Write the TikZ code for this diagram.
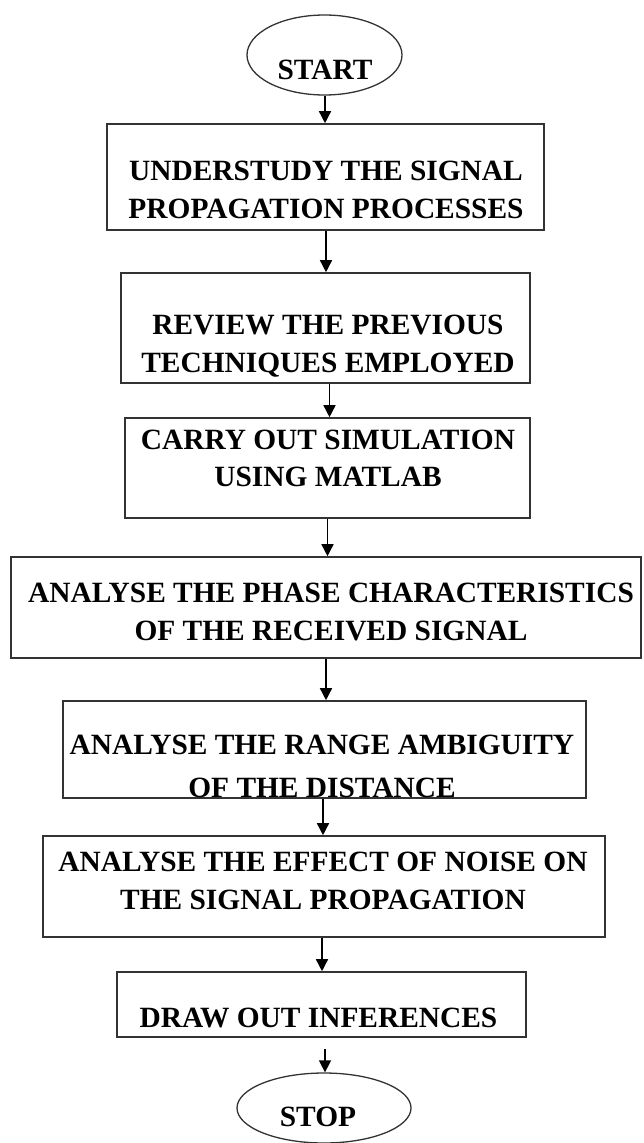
\documentclass[tikz,border=0pt]{standalone}
\usepackage{fontspec}
\setmainfont{Liberation Serif}
\usetikzlibrary{arrows.meta,shapes.geometric}
\begin{document}
\begin{tikzpicture}[x=1pt,y=-1pt,
  box/.style={draw=black!80, line width=1.6pt, rectangle, inner sep=0pt},
  oval/.style={draw=black!80, line width=1.3pt, ellipse, inner sep=0pt},
  txt/.style={font=\fontsize{29.4}{37.5}\selectfont\bfseries, align=center, inner sep=0pt, text=black},
  arr/.style={line width=1.5pt, -{Triangle[length=12pt,width=12pt]}}]
\useasboundingbox (0,0) rectangle (643,1143);
% shapes
\node[oval, minimum width=155pt, minimum height=80pt] (s) at (324.5,55) {};
\node[box, minimum width=437pt, minimum height=106pt] (b1) at (325.5,177) {};
\node[box, minimum width=409pt, minimum height=110pt] (b2) at (325.5,328) {};
\node[box, minimum width=405pt, minimum height=100pt] (b3) at (327.5,468) {};
\node[box, minimum width=630pt, minimum height=101pt] (b4) at (326,607.5) {};
\node[box, minimum width=523pt, minimum height=97pt] (b5) at (324.5,749.5) {};
\node[box, minimum width=562pt, minimum height=101pt] (b6) at (324,886.5) {};
\node[box, minimum width=409pt, minimum height=65pt] (b7) at (321.5,1004.5) {};
\node[oval, minimum width=174pt, minimum height=70pt] (p) at (324,1108) {};
% texts
\node[txt] (ts) at (325,70) {START};
\node[txt] (t1) at (326,190) {UNDERSTUDY THE SIGNAL\\PROPAGATION PROCESSES};
\node[txt] (t2) at (328,346) {REVIEW THE PREVIOUS\\TECHNIQUES EMPLOYED};
\node[txt] (t3) at (328,458.5) {CARRY OUT SIMULATION\\USING MATLAB};
\node[txt] (t4) at (331,612) {ANALYSE THE PHASE CHARACTERISTICS\\OF THE RECEIVED SIGNAL};
\node[txt, font=\fontsize{29.4}{43}\selectfont\bfseries] (t5) at (322,766) {ANALYSE THE RANGE AMBIGUITY\\OF THE DISTANCE};
\node[txt] (t6) at (323,881) {ANALYSE THE EFFECT OF NOISE ON\\THE SIGNAL PROPAGATION};
\node[txt] (t7) at (318.5,1018) {DRAW OUT INFERENCES};
\node[txt] (tp) at (318,1117) {STOP};
% connectors
\coordinate (a0) at ([xshift=0.5pt]s.south);
\coordinate (a1) at ([xshift=0.5pt]b1.south);
\coordinate (a2) at ([xshift=4pt]b2.south);
\coordinate (a3) at (b3.south);
\coordinate (a4) at (b4.south);
\coordinate (a5) at ([xshift=-1.5pt]b5.south);
\coordinate (a6) at ([xshift=-2pt]b6.south);
\coordinate (a7) at ([xshift=3.5pt,yshift=-11pt]b7.south);
\draw[arr] (a0) -- (a0 |- b1.north);
\draw[arr] (a1) -- (a1 |- b2.north);
\draw[arr] (a2) -- (a2 |- b3.north);
\draw[arr] (a3) -- (a3 |- b4.north);
\draw[arr] (a4) -- (a4 |- b5.north);
\draw[arr] (a5) -- (a5 |- b6.north);
\draw[arr] (a6) -- (a6 |- b7.north);
\draw[arr] (a7) -- (a7 |- p.north);
\end{tikzpicture}
\end{document}
